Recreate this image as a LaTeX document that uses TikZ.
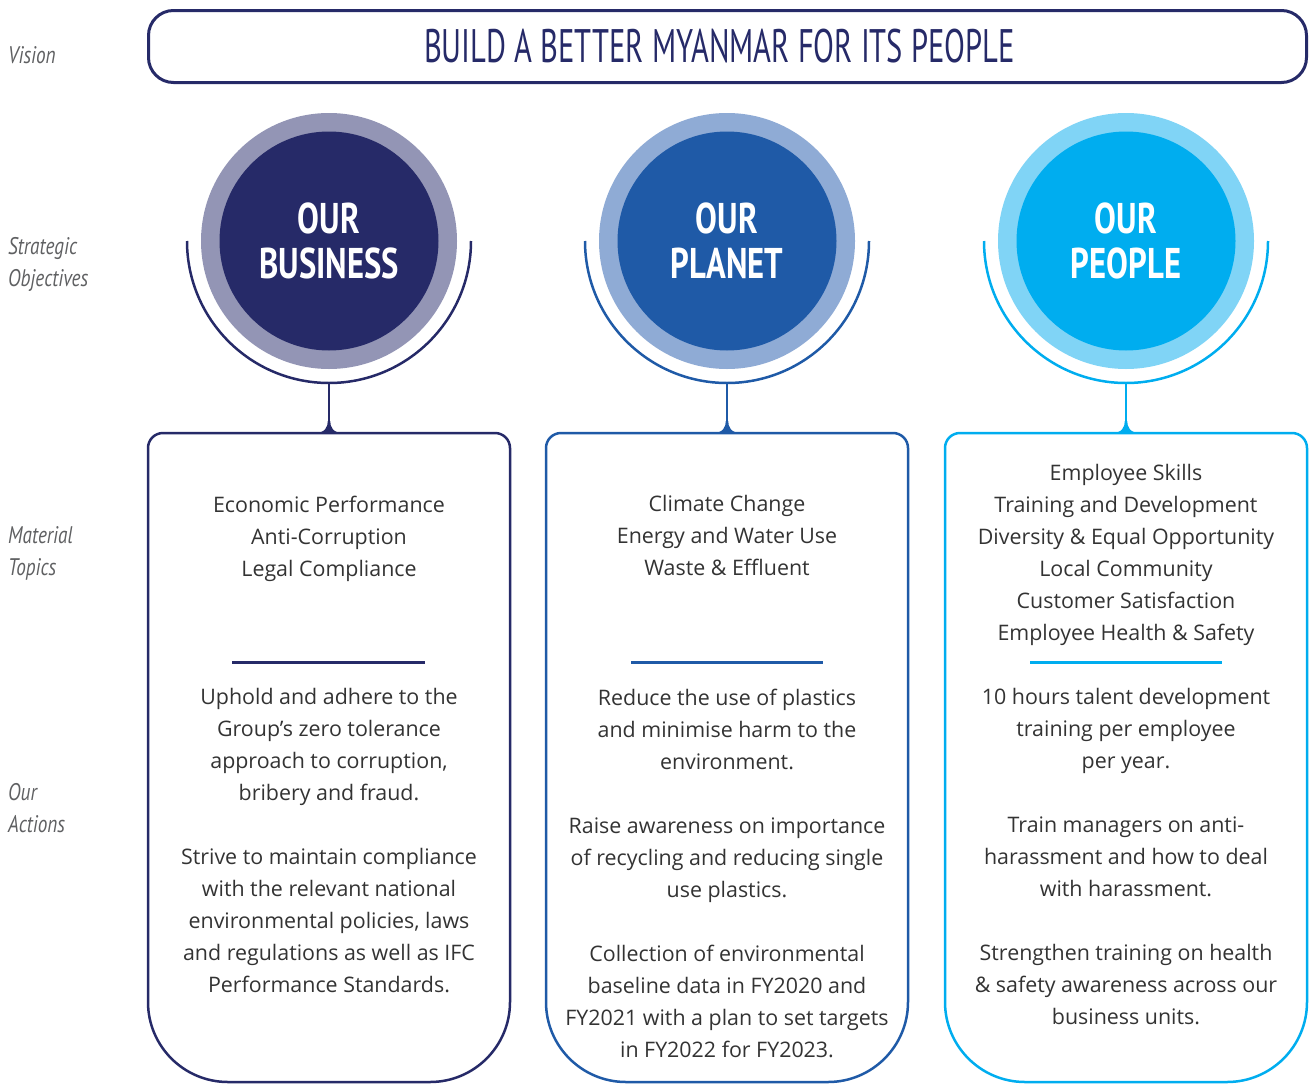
\documentclass[tikz,border=0pt]{standalone}
\usepackage{fontspec}
\setmainfont{Open Sans}
\newfontfamily\condfont[FakeStretch=0.65]{PT Sans}
\newfontfamily\circfont[FakeStretch=0.76]{PT Sans}
\newfontfamily\labelfont[FakeStretch=0.8]{PT Sans}

\definecolor{navy}{HTML}{262A68}
\definecolor{navyring}{HTML}{9395B5}
\definecolor{royal}{HTML}{1F5AA7}
\definecolor{royalring}{HTML}{8FABD5}
\definecolor{sky}{HTML}{00ADEF}
\definecolor{skyring}{HTML}{80D4F6}
\definecolor{labelgray}{HTML}{5F6062}
\definecolor{bodytext}{HTML}{333333}

\tikzset{
  rowlabel/.style={anchor=west, align=left, inner sep=0pt, text=labelgray,
    font=\labelfont\itshape\fontsize{24}{32}\selectfont},
  body/.style={align=center, inner sep=0pt, text=bodytext,
    font=\fontsize{21.4}{32}\selectfont},
  ring/.style={circle, inner sep=0pt, minimum size=256pt},
  core/.style={circle, inner sep=0pt, minimum size=219pt, text=white, align=center,
    font=\circfont\bfseries\fontsize{43}{45}\selectfont},
  frame/.style={line width=2.5pt}
}

\begin{document}
\begin{tikzpicture}[x=1pt, y=-1pt]
	\useasboundingbox (0,0) rectangle (1309,1084);

	% Etiquetas
		\node[rowlabel] (lvision) at (8,55) {Vision};
		\node[rowlabel] (lobj) at (8,264) {Strategic\\Objectives};
		\node[rowlabel] (ltopics) at (8,553) {Material\\Topics};
		\node[rowlabel] (lactions) at (8,808) {Our\\Actions};

	% Vision
		\node[draw=navy, line width=3pt, rounded corners=25pt, minimum width=1158pt, minimum height=72pt] (vision) at (727.5,46.5) {};
		\node[text=navy, inner sep=0pt, font=\condfont\fontsize{47}{47}\selectfont] (visiontext) at ([xshift=-8pt]vision.center) {BUILD A BETTER MYANMAR FOR ITS PEOPLE};

	% Circulos
		\node[ring, fill=navyring] (bizring) at (329,241) {};
		\node[core, fill=navy] (biz) at (329,241) {OUR\\BUSINESS};
		\node[ring, fill=royalring] (planetring) at (727,241) {};
		\node[core, fill=royal] (planet) at (727,241) {OUR\\PLANET};
		\node[ring, fill=skyring] (peoplering) at (1126,241) {};
		\node[core, fill=sky] (people) at (1126,241) {OUR\\PEOPLE};

	% Arcos y tallos
		\draw[frame, navy] (biz.center) ++(180:142) arc (180:0:142);
		\draw[frame, royal] (planet.center) ++(180:142) arc (180:0:142);
		\draw[frame, sky] (people.center) ++(180:142) arc (180:0:142);
		\coordinate (bizstem) at (329,383);
		\coordinate (bizfoot) at (329,433);
		\coordinate (planetstem) at (727,383);
		\coordinate (planetfoot) at (727,433);
		\coordinate (peoplestem) at (1126,383);
		\coordinate (peoplefoot) at (1126,433);
		\draw[frame, navy] (bizstem) -- (bizfoot);
		\draw[frame, royal] (planetstem) -- (planetfoot);
		\draw[frame, sky] (peoplestem) -- (peoplefoot);
		\fill[navy] (bizfoot) ++(-14,0) .. controls +(10,0) and +(0,6) .. ++(12.8,-12) -- ++(2.4,0) .. controls +(0,6) and +(-10,0) .. ++(12.8,12) -- cycle;
		\fill[royal] (planetfoot) ++(-14,0) .. controls +(10,0) and +(0,6) .. ++(12.8,-12) -- ++(2.4,0) .. controls +(0,6) and +(-10,0) .. ++(12.8,12) -- cycle;
		\fill[sky] (peoplefoot) ++(-14,0) .. controls +(10,0) and +(0,6) .. ++(12.8,-12) -- ++(2.4,0) .. controls +(0,6) and +(-10,0) .. ++(12.8,12) -- cycle;

	% Cajas
		\draw[frame, navy] (bizfoot) -- (163,433) arc (270:180:15) -- (148,1002) arc (180:90:80) -- (430,1082) arc (90:0:80) -- (510,448) arc (0:-90:15) -- cycle;
		\draw[frame, royal] (planetfoot) -- (561,433) arc (270:180:15) -- (546,1002) arc (180:90:80) -- (828,1082) arc (90:0:80) -- (908,448) arc (0:-90:15) -- cycle;
		\draw[frame, sky] (peoplefoot) -- (960,433) arc (270:180:15) -- (945,1002) arc (180:90:80) -- (1227,1082) arc (90:0:80) -- (1307,448) arc (0:-90:15) -- cycle;

	% Temas
		\node[body] (biztopics) at (329,538.5) {Economic Performance\\Anti-Corruption\\Legal Compliance};
		\node[body] (planettopics) at (727,535.5) {Climate Change\\Energy and Water Use\\Waste \& Effluent};
		\node[body] (peopletopics) at (1126,555) {Employee Skills\\Training and Development\\Diversity \& Equal Opportunity\\Local Community\\Customer Satisfaction\\Employee Health \& Safety};

	% Separadores
		\draw[line width=3pt, navy] (232,662) -- (425,662);
		\draw[line width=3pt, royal] (631,662) -- (823,662);
		\draw[line width=3pt, sky] (1030,662) -- (1222,662);

	% Acciones
		\node[body] (bizactions) at (329,841) {Uphold and adhere to the\\Group’s zero tolerance\\approach to corruption,\\bribery and fraud.\\[32pt]Strive to maintain compliance\\with the relevant national\\environmental policies, laws\\and regulations as well as IFC\\Performance Standards.};
		\node[body] (planetactions) at (727,873) {Reduce the use of plastics\\and minimise harm to the\\environment.\\[32pt]Raise awareness on importance\\of recycling and reducing single\\use plastics.\\[32pt]Collection of environmental\\baseline data in FY2020 and\\FY2021 with a plan to set targets\\in FY2022 for FY2023.};
		\node[body] (peopleactions) at (1126,857) {10 hours talent development\\training per employee\\per year.\\[32pt]Train managers on anti-\\harassment and how to deal\\with harassment.\\[32pt]Strengthen training on health\\\& safety awareness across our\\business units.};
\end{tikzpicture}
\end{document}
